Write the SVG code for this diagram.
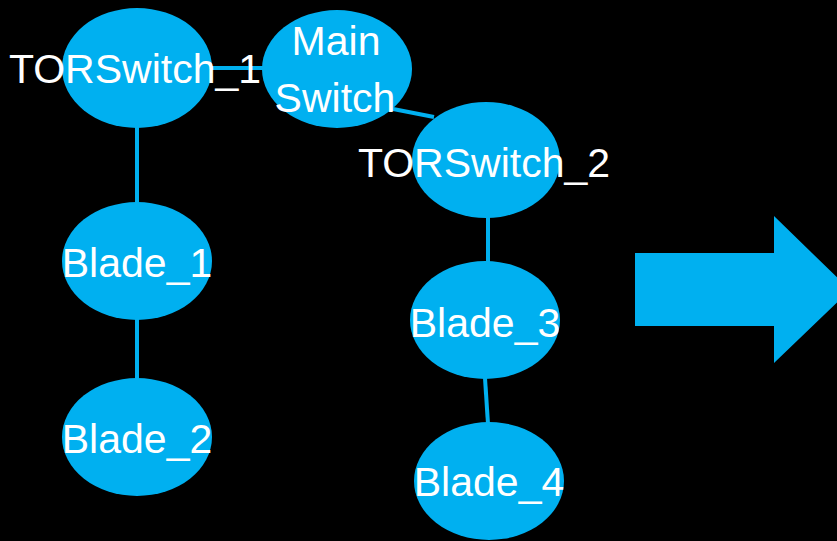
<svg xmlns="http://www.w3.org/2000/svg" width="837" height="541" viewBox="0 0 837 541">
  <style>
    .node { fill: #00B0F0; }
    .edge { stroke: #00B0F0; stroke-width: 4; fill: none; }
    .label { fill: #FFFFFF; font-family: "Liberation Sans", Arial, sans-serif; font-size: 41px; text-anchor: middle; }
  </style>
  <rect x="0" y="0" width="837" height="541" fill="#000000"/>

  <!-- links between switches and blades -->
  <g id="connectors">
    <line class="edge" x1="210" y1="68" x2="265" y2="68"/>
    <line class="edge" x1="388" y1="108" x2="434" y2="117"/>
    <line class="edge" x1="137" y1="126" x2="137" y2="204"/>
    <line class="edge" x1="137" y1="318" x2="137" y2="380"/>
    <line class="edge" x1="488" y1="205" x2="488" y2="263"/>
    <line class="edge" x1="485" y1="378" x2="488" y2="424"/>
  </g>

  <g id="torswitch1">
    <ellipse class="node" cx="137" cy="68" rx="75" ry="60"/>
    <text class="label" x="135" y="83">TORSwitch_1</text>
  </g>

  <g id="mainswitch">
    <ellipse class="node" cx="337" cy="69" rx="75" ry="59"/>
    <text class="label" x="336" y="55">Main</text>
    <text class="label" x="335" y="112">Switch</text>
  </g>

  <g id="torswitch2">
    <ellipse class="node" cx="486" cy="160" rx="74" ry="58"/>
    <text class="label" x="484" y="177">TORSwitch_2</text>
  </g>

  <g id="blade1">
    <ellipse class="node" cx="137" cy="261" rx="75" ry="59"/>
    <text class="label" x="137" y="277">Blade_1</text>
  </g>

  <g id="blade2">
    <ellipse class="node" cx="137" cy="437" rx="75" ry="59"/>
    <text class="label" x="137" y="453">Blade_2</text>
  </g>

  <g id="blade3">
    <ellipse class="node" cx="485" cy="320" rx="75" ry="59"/>
    <text class="label" x="485" y="337">Blade_3</text>
  </g>

  <g id="blade4">
    <ellipse class="node" cx="489" cy="481" rx="75" ry="59"/>
    <text class="label" x="489" y="496">Blade_4</text>
  </g>

  <!-- block arrow on the right -->
  <g id="arrow">
    <polygon class="node" points="635,253 774,253 774,216 850,290 774,363 774,326 635,326"/>
  </g>
</svg>
